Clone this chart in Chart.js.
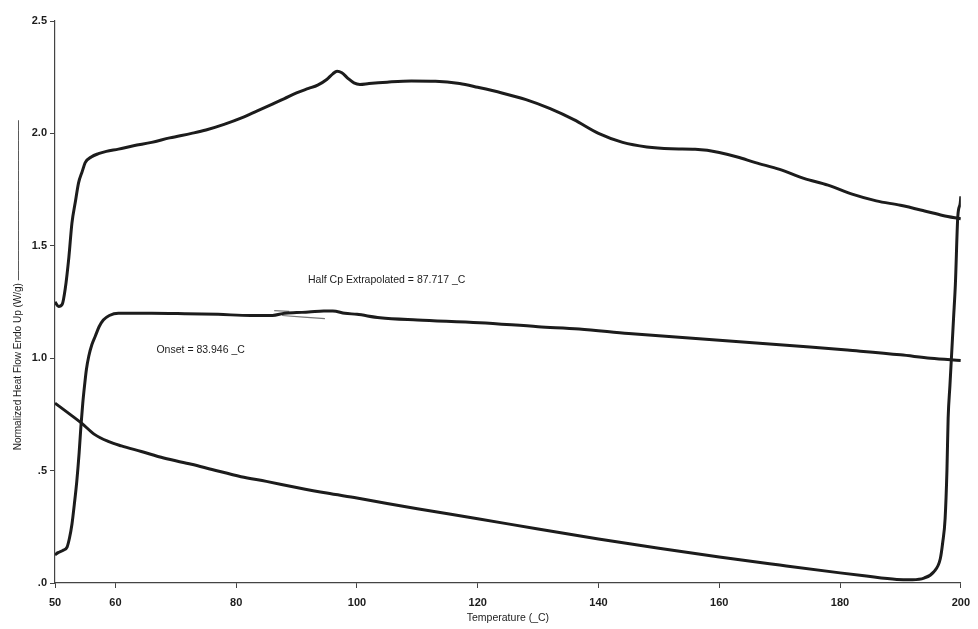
<!DOCTYPE html>
<html>
<head>
<meta charset="utf-8">
<script src="https://cdn.jsdelivr.net/npm/chart.js@4.4.1/dist/chart.umd.min.js"></script>
<style>
  html, body { margin: 0; padding: 0; background: #fff; }
  #wrap { width: 978px; height: 629px; position: relative; }
</style>
</head>
<body>
<div id="wrap"><canvas id="dsc"></canvas></div>
<script>
// first heating scan (top curve)
const scan1X = [50, 50.6, 51.2, 51.7, 52.3, 52.8, 53.4, 53.9, 54.5, 55.0, 56.0, 57.2, 58.5, 60.5, 63, 66, 69, 72.6, 75, 78, 81, 83.5, 86, 88, 90, 92, 93.5, 95, 96, 96.7, 97.5, 98.5, 99.5, 100.5, 102, 105, 109, 113, 117, 120, 124, 128, 132, 136, 140, 144, 148, 152, 156, 158, 160, 163, 166, 170, 174, 178, 182, 186, 190, 194, 197, 200];
const scan1Y = [1.25, 1.23, 1.24, 1.31, 1.45, 1.60, 1.70, 1.78, 1.83, 1.87, 1.895, 1.91, 1.92, 1.93, 1.945, 1.96, 1.98, 2.00, 2.015, 2.04, 2.07, 2.10, 2.13, 2.155, 2.18, 2.20, 2.215, 2.24, 2.265, 2.277, 2.27, 2.245, 2.225, 2.218, 2.222, 2.228, 2.233, 2.232, 2.222, 2.205, 2.18, 2.15, 2.11, 2.06, 2.00, 1.96, 1.94, 1.932, 1.93, 1.925, 1.915, 1.895, 1.87, 1.84, 1.80, 1.77, 1.73, 1.70, 1.68, 1.655, 1.635, 1.62];

// second heating scan (middle curve)
const scan2X = [50, 50.5, 51.3, 52.0, 52.4, 52.8, 53.2, 53.6, 54.0, 54.3, 54.6, 54.9, 55.2, 55.6, 56.1, 56.7, 57.3, 58.0, 59.0, 60.5, 63, 66, 71.5, 77, 82.4, 86, 88, 90, 92, 94.5, 96, 98, 100, 103.8, 110, 120.3, 130, 136.8, 145, 155, 165, 175, 181.2, 190, 195, 200];
const scan2Y = [0.125, 0.135, 0.145, 0.16, 0.20, 0.26, 0.35, 0.45, 0.58, 0.70, 0.80, 0.88, 0.95, 1.01, 1.06, 1.10, 1.14, 1.17, 1.19, 1.20, 1.20, 1.20, 1.198, 1.195, 1.19, 1.19, 1.20, 1.203, 1.205, 1.21, 1.21, 1.20, 1.195, 1.18, 1.17, 1.158, 1.14, 1.13, 1.11, 1.09, 1.07, 1.05, 1.036, 1.015, 1.0, 0.99];

// cooling trace (bottom curve, turns up at the end)
const coolX = [50, 52, 54.4, 56.6, 58.8, 61, 64.3, 68, 72.6, 76, 80.8, 85, 90, 95, 100, 110, 120, 130, 140, 150, 160, 170, 180, 184, 189.4, 192, 193.9, 195.5, 196.6, 197.0, 197.4, 197.7, 197.9, 198.2, 198.5, 198.8, 199.1, 199.5, 199.9, 200];
const coolY = [0.80, 0.76, 0.711, 0.66, 0.63, 0.61, 0.585, 0.556, 0.528, 0.505, 0.473, 0.452, 0.425, 0.40, 0.378, 0.33, 0.286, 0.24, 0.196, 0.155, 0.116, 0.08, 0.045, 0.032, 0.016, 0.015, 0.022, 0.049, 0.108, 0.18, 0.287, 0.5, 0.733, 0.88, 1.03, 1.18, 1.33, 1.63, 1.69, 1.72];

// faint tangent marks near the Tg line
const tangentAX = [86.3, 88.8];
const tangentAY = [1.212, 1.208];
const tangentBX = [87.6, 94.7];
const tangentBY = [1.19, 1.176];

const xTicks = [50, 60, 80, 100, 120, 140, 160, 180, 200];
const yTicks = [0, 0.5, 1.0, 1.5, 2.0, 2.5];
const yTickLabels = ['.0', '.5', '1.0', '1.5', '2.0', '2.5'];

const notes = [
  { text: 'Half Cp Extrapolated = 87.717 _C', x: 91.9, y: 1.346 },
  { text: 'Onset = 83.946 _C', x: 66.8, y: 1.038 }
];

const pts = (xs, ys) => xs.map((x, i) => ({ x: x, y: ys[i] }));

const ink = '#1c1c1c';
const font = 'Liberation Sans, Arial, sans-serif';

const notesPlugin = {
  id: 'notes',
  afterDatasetsDraw(chart) {
    const ctx = chart.ctx;
    const xs = chart.scales.x, ys = chart.scales.y;
    ctx.save();
    ctx.fillStyle = ink;
    ctx.font = '10.5px ' + font;
    ctx.textBaseline = 'middle';
    ctx.textAlign = 'left';
    notes.forEach(n => {
      ctx.fillText(n.text, xs.getPixelForValue(n.x), ys.getPixelForValue(n.y));
    });
    ctx.restore();
  }
};

const curve = (data, w) => ({
  data: data,
  showLine: true,
  borderColor: ink,
  borderWidth: w,
  pointRadius: 0,
  cubicInterpolationMode: 'monotone',
  fill: false
});

new Chart(document.getElementById('dsc'), {
  type: 'scatter',
  data: {
    datasets: [
      curve(pts(scan1X, scan1Y), 3),
      curve(pts(scan2X, scan2Y), 3),
      curve(pts(coolX, coolY), 3),
      Object.assign(curve(pts(tangentAX, tangentAY), 1.2), { borderColor: '#777' }),
      Object.assign(curve(pts(tangentBX, tangentBY), 1.2), { borderColor: '#777' })
    ]
  },
  options: {
    responsive: true,
    maintainAspectRatio: false,
    animation: false,
    layout: { padding: { top: 21, right: 14, left: 0, bottom: 0 } },
    plugins: {
      legend: { display: false },
      tooltip: { enabled: false }
    },
    scales: {
      x: {
        type: 'linear',
        min: 50,
        max: 200,
        afterBuildTicks: axis => { axis.ticks = xTicks.map(v => ({ value: v })); },
        afterFit: axis => { axis.height = 46; },
        ticks: {
          autoSkip: false,
          maxRotation: 0,
          padding: 8,
          color: ink,
          font: { family: font, size: 11, weight: 'bold' }
        },
        grid: { drawOnChartArea: false, drawTicks: true, tickLength: 5, color: '#444' },
        border: { color: '#444', width: 1.2 },
        title: {
          display: true,
          text: 'Temperature (_C)',
          color: ink,
          font: { family: font, size: 10.5 },
          padding: { top: 0, bottom: 5 }
        }
      },
      y: {
        type: 'linear',
        min: 0,
        max: 2.5,
        afterBuildTicks: axis => { axis.ticks = yTicks.map(v => ({ value: v })); },
        afterFit: axis => { axis.width = 55; },
        ticks: {
          padding: 3,
          color: ink,
          font: { family: font, size: 11, weight: 'bold' },
          callback: (v) => {
            const i = yTicks.indexOf(v);
            return i >= 0 ? yTickLabels[i] : '';
          }
        },
        grid: { drawOnChartArea: false, drawTicks: true, tickLength: 5, color: '#444' },
        border: { color: '#444', width: 1.2 },
        title: {
          display: true,
          text: '\u2007\u2007\u2007\u2007\u2007\u2007Normalized Heat Flow Endo Up (W/g) \u2014\u2014\u2014\u2014\u2014\u2014\u2014\u2014\u2014\u2014\u2014\u2014\u2014\u2014\u2014\u2014',
          color: ink,
          font: { family: font, size: 10 },
          padding: { top: 12, bottom: 0 }
        }
      }
    }
  },
  plugins: [notesPlugin]
});
</script>
</body>
</html>
